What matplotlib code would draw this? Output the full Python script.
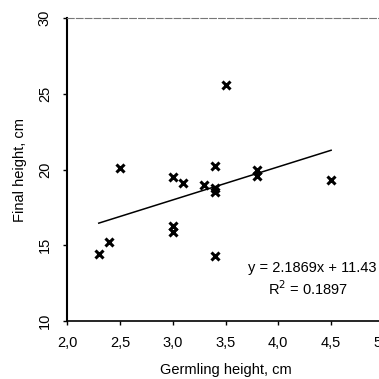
import matplotlib
matplotlib.use("Agg")
import matplotlib.pyplot as plt
import numpy as np

plt.rcParams['font.family'] = ['Liberation Sans', 'DejaVu Sans']

# germling height vs final height
germling = [2.3, 2.4, 2.5, 3.0, 3.0, 3.0, 3.1, 3.3, 3.4, 3.4, 3.4, 3.4, 3.5, 3.8, 3.8, 4.5]
final = [14.4, 15.2, 20.1, 19.5, 16.3, 15.9, 19.1, 19.0, 20.2, 18.8, 18.5, 14.3, 25.6, 20.0, 19.6, 19.3]

slope, intercept, r2 = 2.1869, 11.43, 0.1897
xticks = [2.0, 2.5, 3.0, 3.5, 4.0, 4.5, 5.0]
yticks = [10, 15, 20, 25, 30]

fig = plt.figure(figsize=(3.79, 3.79), dpi=100)
ax = fig.add_axes([0.177, 0.153, 0.836, 0.7995])

ax.plot(germling, final, linestyle='none', marker='x', color='black',
        markersize=5.5, markeredgewidth=2.2)

xs = np.array([min(germling), max(germling)])
ax.plot(xs, slope * xs + intercept, color='black', linewidth=1.1)

ax.set_xlim(2.0, 5.0)
ax.set_ylim(10, 30)
ax.set_xticks(xticks)
ax.set_xticklabels([f"{t:.1f}".replace('.', ',') for t in xticks], fontsize=10.5)
ax.set_yticks(yticks)
ax.set_yticklabels([str(t) for t in yticks], fontsize=10.5, rotation=90, va='center')
ax.tick_params(direction='out', length=3, width=1, pad=8)

ax.spines['right'].set_visible(False)
ax.spines['top'].set_color('#777777')
ax.spines['top'].set_linestyle((0, (6, 2)))
ax.spines['top'].set_linewidth(0.8)
ax.spines['bottom'].set_linewidth(1.2)
ax.spines['left'].set_linewidth(1.5)

ax.set_xlabel('Germling height, cm', fontsize=10.5, labelpad=9)
ax.set_ylabel('Final height, cm', fontsize=10.5, labelpad=8)

fig.text(376 / 379, 1 - 268 / 379, f'y = {slope}x + {intercept}', fontsize=10.5,
         ha='right', va='center')
fig.text(308 / 379, 1 - 289 / 379, f'R$^2$ = {r2}', fontsize=10.5,
         ha='center', va='center')

fig.savefig('out.png', dpi=100)
